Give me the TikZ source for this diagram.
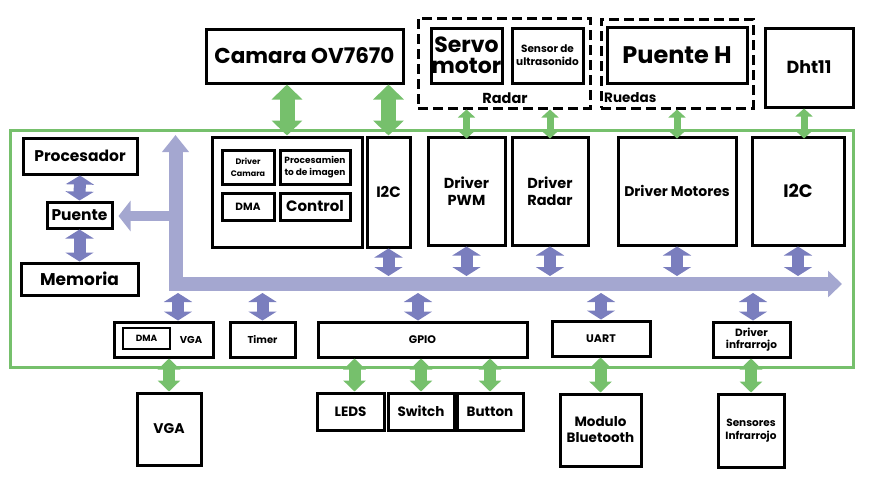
\documentclass[tikz,border=0pt]{standalone}
\usepackage{fontspec}
\setmainfont{Poppins}
\usetikzlibrary{arrows.meta}
\definecolor{gr}{RGB}{118,192,108}
\definecolor{pa}{RGB}{122,126,190}
\definecolor{busc}{RGB}{164,167,208}
\newcommand\fs[2]{\bfseries\fontsize{#1}{#2}\selectfont}
\newcommand\bx[7][]{\node[box,#1,minimum width={(#5-#3)*1pt},minimum height={(#6-#4)*1pt}] (#2) at ({(#3+#5)/2},{(#4+#6)/2}) {#7};}
\tikzset{
 box/.style={draw=black, line width=3pt, fill=white, inner sep=0pt, align=center, font=\bfseries},
 dbox/.style={fill=none, dash pattern=on 10pt off 5pt},
 lbl/.style={inner sep=0pt, font=\bfseries},
 parrow/.style={draw=pa, line width=12pt, {Triangle[width=28pt,length=9pt]}-{Triangle[width=28pt,length=9pt]}},
 garrowL/.style={draw=gr, line width=15pt, {Triangle[width=30pt,length=15pt]}-{Triangle[width=30pt,length=15pt]}},
 garrowS/.style={draw=gr, line width=7pt, {Triangle[width=17pt,length=8pt]}-{Triangle[width=17pt,length=8pt]}},
 garrowM/.style={draw=gr, line width=12pt, {Triangle[width=22pt,length=11pt]}-{Triangle[width=22pt,length=11pt]}},
 buspath/.style={draw=busc, line width=14pt, line join=miter, {Triangle[width=26pt,length=17pt]}-{Triangle[width=26pt,length=14pt]}},
 busbranch/.style={draw=busc, line width=10pt, -{Triangle[width=30pt,length=12pt]}},
}
\begin{document}
\begin{tikzpicture}[x=1pt,y=-1pt]
\useasboundingbox (0,0) rectangle (870,488);
% frame
\bx[draw=gr,fill=none]{frame}{10}{130}{853}{367}{}
% bus
\coordinate (bustopend) at (175.5,135);
\coordinate (buscorner) at (175.5,284);
\coordinate (busend) at (842,284);
\coordinate (busbr) at (175.5,216);
\coordinate (bustop) at (0,276);
\coordinate (busbot) at (0,293);
\draw[buspath] (bustopend) -- (buscorner) -- (busend);
% left cluster
\bx[font=\fs{15.5}{18}]{proc}{23}{138}{137}{174}{Procesador}
\bx[font=\fs{15.5}{18}]{puente}{47}{202}{112}{228}{Puente}
\bx[font=\fs{17}{19}]{mem}{21}{263}{138}{295}{Memoria}
\draw[busbranch] (busbr) -- ([xshift=5pt]busbr -| puente.east);
% camera
\bx[font=\fs{21.5}{24}]{cam}{206}{29}{403}{83}{Camara OV7670}
\bx{camsub}{212}{137}{362}{247}{}
\bx[font=\fs{8}{12}]{drvcam}{222}{150}{274}{184}{Driver\\Camara}
\bx[font=\fs{9}{12}]{procimg}{280}{150}{350}{184}{Procesamien\\to de imagen}
\bx[font=\fs{10.5}{12}]{dmacam}{222}{193}{274}{220}{DMA}
\bx[font=\fs{15}{17}]{ctrl}{280}{193}{350}{220}{Control}
\bx[font=\fs{15}{17}]{i2ca}{367}{137}{410}{247}{I2C}
% radar
\bx[dbox]{radar}{418}{18}{590}{108}{}
\bx[font=\fs{22}{21}]{servo}{431}{28}{502}{83}{Servo\\motor}
\bx[font=\fs{10.5}{13}]{sonar}{512}{28}{583}{83}{Sensor de\\ultrasonido}
\node[lbl,font=\fs{14.5}{16}] (radarlbl) at (505,98) {Radar};
% ruedas
\bx[dbox]{ruedas}{601}{19}{753}{108}{}
\bx[font=\fs{24}{26}]{hbridge}{607}{27}{747}{83}{Puente H}
\node[lbl,anchor=west,font=\fs{13.5}{15}] (ruedaslbl) at (604,98) {Ruedas};
\bx[font=\fs{17.5}{20}]{dht}{765}{28}{853}{107}{Dht11}
% drivers
\bx[font=\fs{14.5}{17}]{pwm}{428}{137}{505}{245}{Driver\\PWM}
\bx[font=\fs{14.5}{17}]{drad}{512}{137}{588}{245}{Driver\\Radar}
\bx[font=\fs{14}{16}]{mot}{618}{137}{736}{245}{Driver Motores}
\bx[font=\fs{18}{20}]{i2cb}{752}{137}{844}{245}{I2C}
% bottom row
\bx{vgactl}{114}{322}{213}{357}{}
\bx[line width=2.5pt,font=\fs{9}{11}]{dmavga}{123}{328}{170}{349}{DMA}
\node[lbl,font=\fs{10}{12}] (vgalbl) at (191,339.5) {VGA};
\bx[font=\fs{10}{12}]{timer}{230}{322}{295}{357}{Timer}
\bx[font=\fs{11}{13}]{gpio}{318}{322}{527}{357}{GPIO}
\bx[font=\fs{11}{13}]{uart}{552}{321}{650}{356}{UART}
\bx[font=\fs{10.5}{12.5}]{dinf}{713}{322}{790}{357}{Driver\\infrarrojo}
% peripherals
\bx[font=\fs{14}{16}]{vga}{137}{393}{201}{465}{VGA}
\bx[font=\fs{13.5}{15}]{leds}{317}{393}{384}{430}{LEDS}
\bx[font=\fs{13.5}{15}]{sw}{388}{393}{454}{430}{Switch}
\bx[font=\fs{13.5}{15}]{btn}{457}{393}{523}{430}{Button}
\bx[font=\fs{13.5}{16}]{bt}{560}{394}{641}{466}{Modulo\\Bluetooth}
\bx[font=\fs{10.5}{13.5}]{sinf}{718}{394}{784}{467}{Sensores\\Infrarrojo}
% purple arrows
\draw[parrow] (proc.south) -- (puente.north);
\draw[parrow] (puente.south) -- (mem.north);
\foreach \n in {i2ca,pwm,drad,mot,i2cb}{
  \draw[parrow] (\n.south) -- (\n.south |- bustop);
}
\draw[parrow] ([xshift=14.5pt]vgactl.north |- busbot) -- ([xshift=14.5pt]vgactl.north);
\draw[parrow] (timer.north |- busbot) -- (timer.north);
\draw[parrow] ([xshift=-4.5pt]gpio.north |- busbot) -- ([xshift=-4.5pt]gpio.north);
\draw[parrow] (uart.north |- busbot) -- (uart.north);
\draw[parrow] ([xshift=1.5pt]dinf.north |- busbot) -- ([xshift=1.5pt]dinf.north);
% green arrows top
\draw[garrowL] (cam.south -| camsub.north) -- (camsub.north);
\draw[garrowL] (cam.south -| i2ca.north) -- (i2ca.north);
\draw[garrowS] (radar.south -| pwm.north) -- ([yshift=-3pt]pwm.north);
\draw[garrowS] (radar.south -| drad.north) -- ([yshift=-3pt]drad.north);
\draw[garrowS] (ruedas.south -| mot.north) -- ([yshift=-3pt]mot.north);
\draw[garrowS] ([xshift=-5pt]dht.south) -- ([xshift=-5pt,yshift=-3pt]dht.south |- i2cb.north);
% green arrows bottom
\draw[garrowM] (vga.north |- vgactl.south) -- (vga.north);
\draw[garrowM] ([xshift=4pt]leds.north |- gpio.south) -- ([xshift=4pt]leds.north);
\draw[garrowM] (sw.north |- gpio.south) -- (sw.north);
\draw[garrowM] (btn.north |- gpio.south) -- (btn.north);
\draw[garrowM] (bt.north |- uart.south) -- (bt.north);
\draw[garrowM] (sinf.north |- dinf.south) -- (sinf.north);
\end{tikzpicture}
\end{document}
